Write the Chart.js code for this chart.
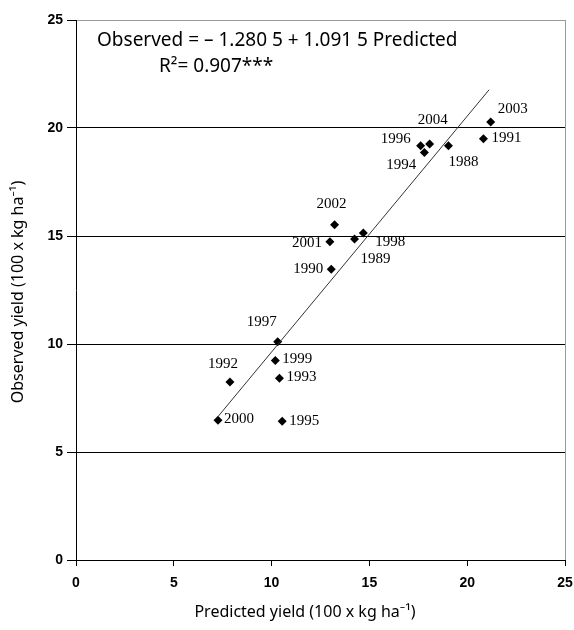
<!DOCTYPE html>
<html lang="en">
<head>
  <meta charset="UTF-8" />
  <title>Observed vs predicted yield</title>
  <script src="https://cdn.jsdelivr.net/npm/chart.js"></script>
  <style>
    html, body { margin: 0; padding: 0; background: #fff; }
    #wrap { width: 574px; height: 630px; }
  </style>
</head>
<body>
  <div id="wrap"><canvas id="yieldChart" width="574" height="630"></canvas></div>

  <script>
    // values
    const years     = ['1988','1989','1990','1991','1992','1993','1994','1995','1996','1997','1998','1999','2000','2001','2002','2003','2004'];
    const predicted = [19.04, 14.24, 13.05, 20.83, 7.87, 10.40, 17.81, 10.54, 17.62, 10.31, 14.69, 10.19, 7.26, 12.98, 13.22, 21.20, 18.08];
    const observed  = [19.18, 14.86, 13.46, 19.50, 8.24, 8.42, 18.86, 6.42, 19.18, 10.10, 15.14, 9.24, 6.47, 14.73, 15.52, 20.28, 19.26];
    const fitX = [7.26, 21.12];
    const fitY = [6.64, 21.77];
    const axisTicks = [0, 5, 10, 15, 20, 25];

    // where each year label sits relative to its point: dx, dy, align
    const labelPos = {
      '1988': [15, 16, 'center'], '1989': [6, 20, 'left'],   '1990': [-8, 0, 'right'],
      '1991': [8, -1, 'left'],    '1992': [-7, -18, 'center'], '1993': [7, -1, 'left'],
      '1994': [-8, 12, 'right'],  '1995': [7, 0, 'left'],    '1996': [-10, -7, 'right'],
      '1997': [-16, -20, 'center'], '1998': [12, 9, 'left'], '1999': [7, -1, 'left'],
      '2000': [6, -1, 'left'],    '2001': [-8, 1, 'right'],  '2002': [-3, -21, 'center'],
      '2003': [7, -13, 'left'],   '2004': [3, -24, 'center']
    };

    const points = predicted.map((x, i) => ({ x, y: observed[i] }));
    const fitLine = fitX.map((x, i) => ({ x, y: fitY[i] }));

    const tickFont = { family: "'Liberation Sans Narrow', 'Arial Narrow', 'Liberation Sans', sans-serif", size: 14, weight: 'bold' };
    const titleFont = "16px 'Noto Sans', 'Open Sans', sans-serif";

    // year labels, equation and axis titles
    const annotate = {
      id: 'annotate',
      afterDatasetsDraw(chart) {
        const { ctx } = chart;
        const meta = chart.getDatasetMeta(1);
        ctx.save();
        ctx.fillStyle = '#000';
        ctx.font = "15px 'Liberation Serif', 'Times New Roman', serif";
        ctx.textBaseline = 'middle';
        meta.data.forEach((pt, i) => {
          const p = labelPos[years[i]];
          ctx.textAlign = p[2];
          ctx.fillText(years[i], pt.x + p[0], pt.y + p[1]);
        });

        ctx.font = "19px 'Noto Sans', 'Open Sans', sans-serif";
        ctx.textAlign = 'left';
        ctx.fillText('Observed = \u2013 1.280 5 + 1.091 5 Predicted', 97, 41);
        ctx.fillText('R\u00b2= 0.907***', 159, 67);

        ctx.font = titleFont;
        ctx.textAlign = 'center';
        ctx.fillText('Predicted yield (100 x kg ha\u207b\u00b9)', 305, 612);
        ctx.translate(18, 292);
        ctx.rotate(-Math.PI / 2);
        ctx.fillText('Observed yield (100 x kg ha\u207b\u00b9)', 0, 0);
        ctx.restore();
      }
    };

    new Chart(document.getElementById('yieldChart'), {
      type: 'scatter',
      data: {
        datasets: [
          {
            type: 'line',
            data: fitLine,
            borderColor: '#333',
            borderWidth: 1,
            pointRadius: 0,
            fill: false
          },
          {
            data: points,
            pointStyle: 'rectRot',
            pointRadius: 4.5,
            pointHoverRadius: 4.5,
            backgroundColor: '#000',
            borderColor: '#000',
            borderWidth: 0
          }
        ]
      },
      plugins: [annotate],
      options: {
        responsive: false,
        animation: false,
        events: [],
        layout: { padding: { top: 20, right: 9, left: 0, bottom: 0 } },
        plugins: { legend: { display: false }, tooltip: { enabled: false } },
        scales: {
          x: {
            type: 'linear',
            min: 0, max: 25,
            afterBuildTicks: s => { s.ticks = axisTicks.map(v => ({ value: v })); },
            afterFit: s => { s.height = 70; s.paddingLeft = 0; s.paddingRight = 0; },
            border: { color: '#000', width: 1 },
            grid: {
              color: c => c.tick && c.tick.value === 25 ? '#9a9a9a' : 'rgba(0,0,0,0)',
              tickColor: '#000',
              tickLength: 6,
              lineWidth: 1
            },
            ticks: { color: '#000', font: tickFont, padding: 9, maxRotation: 0 }
          },
          y: {
            type: 'linear',
            min: 0, max: 25,
            afterBuildTicks: s => { s.ticks = axisTicks.map(v => ({ value: v })); },
            afterFit: s => { s.width = 76; s.paddingTop = 0; s.paddingBottom = 0; },
            border: { color: '#000', width: 1 },
            grid: {
              color: c => c.tick && c.tick.value === 25 ? '#9a9a9a' : '#000',
              tickColor: '#000',
              tickLength: 9,
              lineWidth: 1
            },
            ticks: { color: '#000', font: tickFont, padding: 4 }
          }
        }
      }
    });
  </script>
</body>
</html>
